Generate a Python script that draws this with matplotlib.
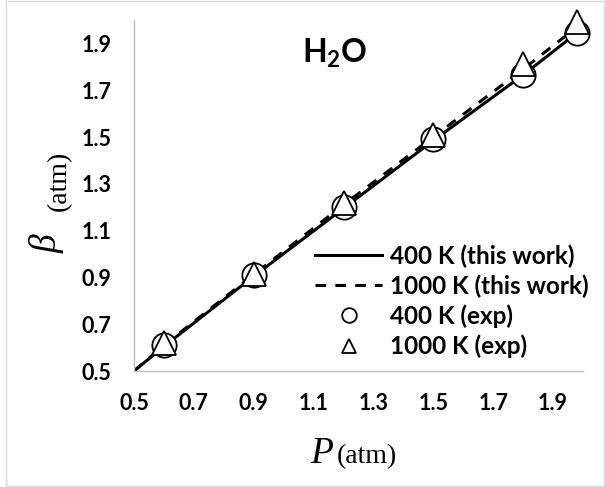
import numpy as np
import matplotlib
matplotlib.use('Agg')
import matplotlib.pyplot as plt
from matplotlib.patches import Rectangle

plt.rcParams['font.family'] = ['Lato', 'DejaVu Sans']
plt.rcParams['mathtext.fontset'] = 'custom'
plt.rcParams['mathtext.rm'] = 'Lato:bold'
plt.rcParams['mathtext.bf'] = 'Lato:bold'

# model curves (this work)
p_line = [0.5, 0.6, 0.9, 1.2, 1.5, 1.8, 1.98]
beta_400 = [0.5, 0.605, 0.905, 1.195, 1.485, 1.765, 1.945]
beta_1000 = [0.5, 0.61, 0.912, 1.21, 1.5, 1.79, 1.97]

# experimental points
p_exp = [0.6, 0.9, 1.2, 1.5, 1.8, 1.98]
beta_400_exp = [0.61, 0.91, 1.20, 1.49, 1.765, 1.945]
beta_1000_exp = [0.62, 0.915, 1.22, 1.51, 1.81, 1.99]

ticks = [0.5, 0.7, 0.9, 1.1, 1.3, 1.5, 1.7, 1.9]

W, H = 605, 487
fig = plt.figure(figsize=(W / 100, H / 100), dpi=100)
ax = fig.add_axes([134 / W, 1 - 371 / H, (583 - 134) / W, (371 - 20) / H])

ax.plot(p_line, beta_400, color='black', lw=2.2, label='400 K (this work)', zorder=2)
ax.plot(p_line, beta_1000, color='black', lw=2.2, ls=(0, (3.5, 3.0)),
        label='1000 K (this work)', zorder=2)
ax.plot(p_exp, beta_400_exp, 'o', ms=17.5, mfc='white', mec='black', mew=1.3,
        label='400 K (exp)', zorder=3, clip_on=False)
ax.plot(p_exp, beta_1000_exp, '^', ms=17.5, mfc='white', mec='black', mew=1.3,
        label='1000 K (exp)', zorder=4, clip_on=False)

ax.set_xlim(0.5, 2.0)
ax.set_ylim(0.5, 2.0)
ax.set_xticks(ticks)
ax.set_yticks(ticks)
ax.set_xticklabels([f'{t:.1f}' for t in ticks])
ax.set_yticklabels([f'{t:.1f}' for t in ticks])
ax.tick_params(length=0, labelsize=15.5, pad=16)
for lab in ax.get_xticklabels() + ax.get_yticklabels():
    lab.set_fontweight('bold')

for s in ['top', 'right']:
    ax.spines[s].set_visible(False)
for s in ['left', 'bottom']:
    ax.spines[s].set_color('#bfbfbf')
    ax.spines[s].set_linewidth(1.0)

# axis titles
fig.text(333 / W, 1 - 463 / H, 'P', family='Liberation Serif', style='italic',
         fontsize=27, ha='right', va='baseline')
fig.text(337 / W, 1 - 463 / H, '(atm)', family='Liberation Serif',
         fontsize=20, ha='left', va='baseline')
fig.text(47 / W, 1 - 253 / H, 'β', family='Liberation Serif', style='italic',
         fontsize=27, rotation=90, ha='center', va='bottom')
fig.text(59 / W, 1 - 211 / H, '(atm)', family='Liberation Serif',
         fontsize=20, rotation=90, ha='center', va='bottom')

fig.text(335 / W, 1 - 63 / H, r'H$_\mathbf{2}$O', fontsize=23,
         fontweight='bold', ha='center', va='baseline')

leg = ax.legend(loc='upper left', bbox_to_anchor=(303 / W, 1 - 232 / H),
                bbox_transform=fig.transFigure, frameon=False, fontsize=17.5,
                handlelength=2.75, handletextpad=0.33, labelspacing=0.27,
                borderpad=0, markerscale=0.6)
for t in leg.get_texts():
    t.set_fontweight('bold')

fig.patches.append(Rectangle((6 / W, 1 / H), 598 / W, 485 / H, transform=fig.transFigure,
                             fill=False, edgecolor='#d9d9d9', lw=1.0))

fig.savefig('out.png', dpi=100)
